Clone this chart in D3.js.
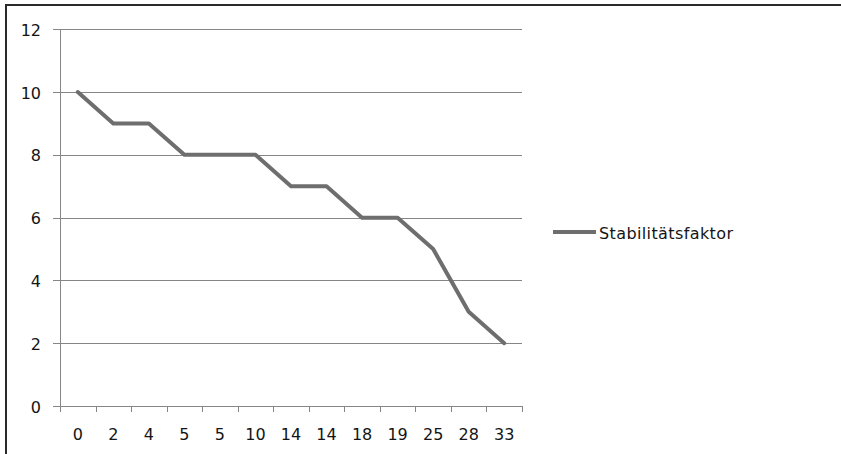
<!DOCTYPE html>
<html><head><meta charset="utf-8">
<script src="https://cdn.jsdelivr.net/npm/d3@7"></script>
<style>body{margin:0;background:#fff;overflow:hidden}svg{display:block}</style>
</head><body>
<svg id="c" width="841" height="454"></svg>
<script>
const categories = ["0","2","4","5","5","10","14","14","18","19","25","28","33"];
const values = [10,9,9,8,8,8,7,7,6,6,5,3,2];
const yTicks = [0,2,4,6,8,10,12];
const seriesName = "Stabilitätsfaktor";

(function(){
const svg = d3.select("#c");
const W = 841, H = 454;
const pLeft = 60, pRight = 522, pTop = 29.3, pBottom = 406;
const font = "DejaVu Sans, sans-serif";
const txt = "#141414";

// border (outer frame, cropped at right/bottom)
svg.append("line").attr("x1",5).attr("x2",W).attr("y1",5).attr("y2",5)
  .attr("stroke","#2a2a2a").attr("stroke-width",2);
svg.append("line").attr("x1",6).attr("x2",6).attr("y1",4).attr("y2",H)
  .attr("stroke","#2a2a2a").attr("stroke-width",2);

const x = d3.scaleBand().domain(d3.range(categories.length)).range([pLeft,pRight]);
const y = d3.scaleLinear().domain([0,12]).range([pBottom,pTop]);

// gridlines
svg.append("g").selectAll("line").data(yTicks).join("line")
  .attr("x1",pLeft-7).attr("x2",pRight)
  .attr("y1",d=>Math.round(y(d))+0.5).attr("y2",d=>Math.round(y(d))+0.5)
  .attr("stroke","#868686").attr("stroke-width",1);

// y axis line
svg.append("line").attr("x1",pLeft+0.5).attr("x2",pLeft+0.5).attr("y1",pTop).attr("y2",pBottom)
  .attr("stroke","#868686");

// x ticks at band boundaries
const bounds = d3.range(categories.length+1).map(i => i < categories.length ? x(i) : x(categories.length-1)+x.bandwidth());
svg.append("g").selectAll("line").data(bounds).join("line")
  .attr("x1",d=>Math.round(d)+0.5).attr("x2",d=>Math.round(d)+0.5)
  .attr("y1",Math.round(pBottom)).attr("y2",Math.round(pBottom)+6)
  .attr("stroke","#868686");

// y labels
svg.append("g").selectAll("text").data(yTicks).join("text")
  .attr("x",41).attr("y",d=>y(d)+6.5).attr("text-anchor","end")
  .attr("font-family",font).attr("font-size",16).attr("fill",txt).text(d=>d);

// x labels
svg.append("g").selectAll("text").data(categories).join("text")
  .attr("x",(d,i)=>x(i)+x.bandwidth()/2).attr("y",440).attr("text-anchor","middle")
  .attr("font-family",font).attr("font-size",16).attr("fill",txt).text(d=>d);

// line
const line = d3.line().x((d,i)=>x(i)+x.bandwidth()/2).y(d=>y(d));
svg.append("path").datum(values).attr("d",line).attr("fill","none")
  .attr("stroke","#6e6e6e").attr("stroke-width",4).attr("stroke-linejoin","round").attr("stroke-linecap","round");

// legend
svg.append("line").attr("x1",553).attr("x2",596).attr("y1",232).attr("y2",232)
  .attr("stroke","#6e6e6e").attr("stroke-width",4);
svg.append("text").attr("x",599).attr("y",239).attr("font-family",font).attr("font-size",16)
  .attr("textLength",134).attr("lengthAdjust","spacing")
  .attr("fill",txt).text(seriesName);
})();
</script>
</body></html>
